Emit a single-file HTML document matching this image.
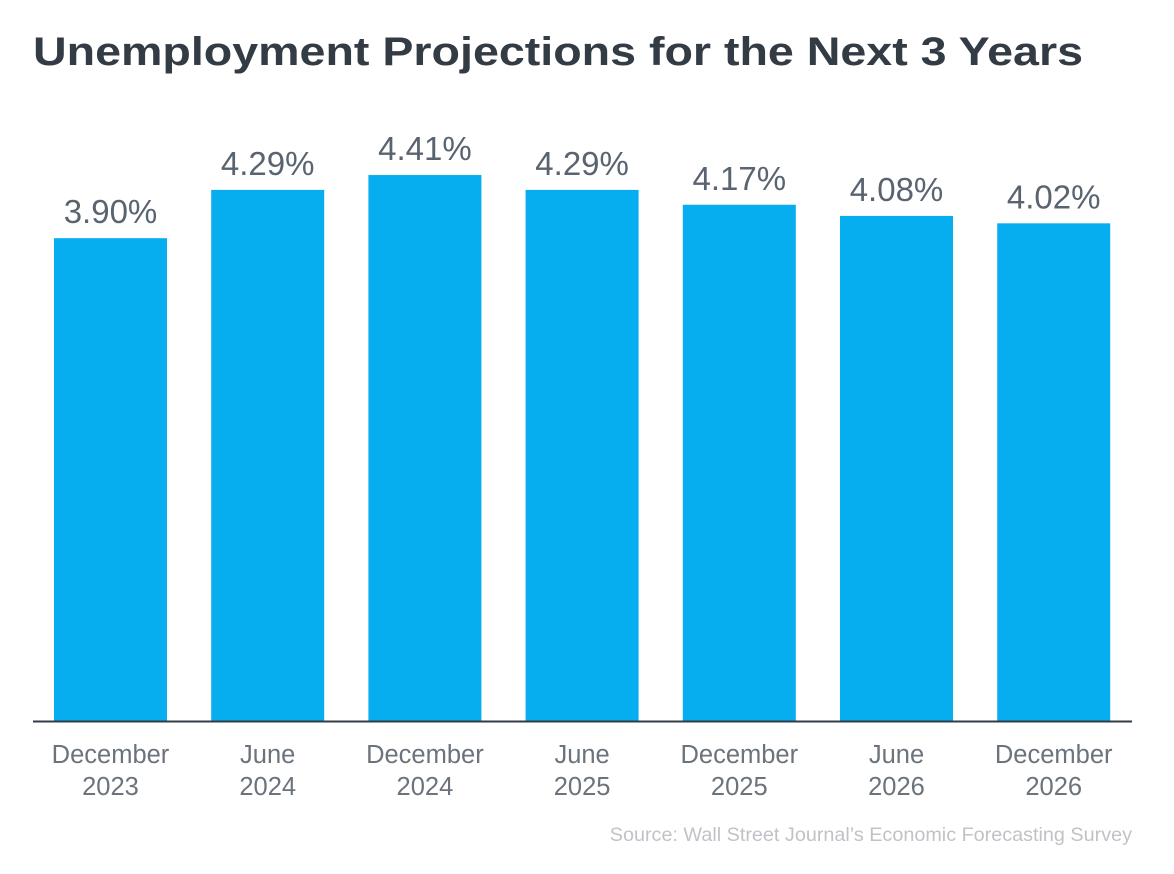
<!DOCTYPE html>
<html><head><meta charset="utf-8"><style>
html,body{margin:0;padding:0;background:#fff;}
svg{display:block;font-family:"Liberation Sans",Arial,sans-serif;}
</style></head><body>
<svg id="chart" width="1174" height="874" viewBox="0 0 1174 874">
<text x="33" y="65" font-size="40" font-weight="bold" fill="#333b44" textLength="1050" lengthAdjust="spacingAndGlyphs">Unemployment Projections for the Next 3 Years</text>
<g id="bars"></g>
<line x1="33" y1="721.5" x2="1132" y2="721.5" stroke="#333b44" stroke-width="2"/>
<text x="1132" y="841" font-size="19.8" fill="#bfc3c7" text-anchor="end">Source: Wall Street Journal’s Economic Forecasting Survey</text>
</svg>
<script>
const categoriesLine1 = ["December","June","December","June","December","June","December"];
const categoriesLine2 = ["2023","2024","2024","2025","2025","2026","2026"];
const values = [3.90, 4.29, 4.41, 4.29, 4.17, 4.08, 4.02];
const valueLabels = ["3.90%","4.29%","4.41%","4.29%","4.17%","4.08%","4.02%"];

const NS = "http://www.w3.org/2000/svg";
const baseY = 721, pxPerUnit = 123.8, x0 = 54, pitch = 157.2, barW = 113;
function xScale(i){ return x0 + i * pitch; }
function yScale(v){ return baseY - v * pxPerUnit; }
const g = document.getElementById("bars");
function mk(tag, attrs, text){
  const el = document.createElementNS(NS, tag);
  for (const k in attrs) el.setAttribute(k, attrs[k]);
  if (text !== undefined) el.textContent = text;
  g.appendChild(el);
  return el;
}
values.forEach((v, i) => {
  const x = xScale(i), y = yScale(v), cx = x + barW / 2;
  const r = mk("rect", {x: x, y: y, width: barW, height: baseY - y, fill: "#06adef"});
  
  
  const t = mk("text", {x: cx, y: y - 15, "font-size": 33, fill: "#5a6470", "text-anchor": "middle"}, valueLabels[i]);
  
  
  const c1 = mk("text", {x: cx, y: 763, "font-size": 25.5, fill: "#6b737c", "text-anchor": "middle"}, categoriesLine1[i]);
  
  
  const c2 = mk("text", {x: cx, y: 795, "font-size": 25.5, fill: "#6b737c", "text-anchor": "middle"}, categoriesLine2[i]);
  
  
});
</script>
</body></html>
